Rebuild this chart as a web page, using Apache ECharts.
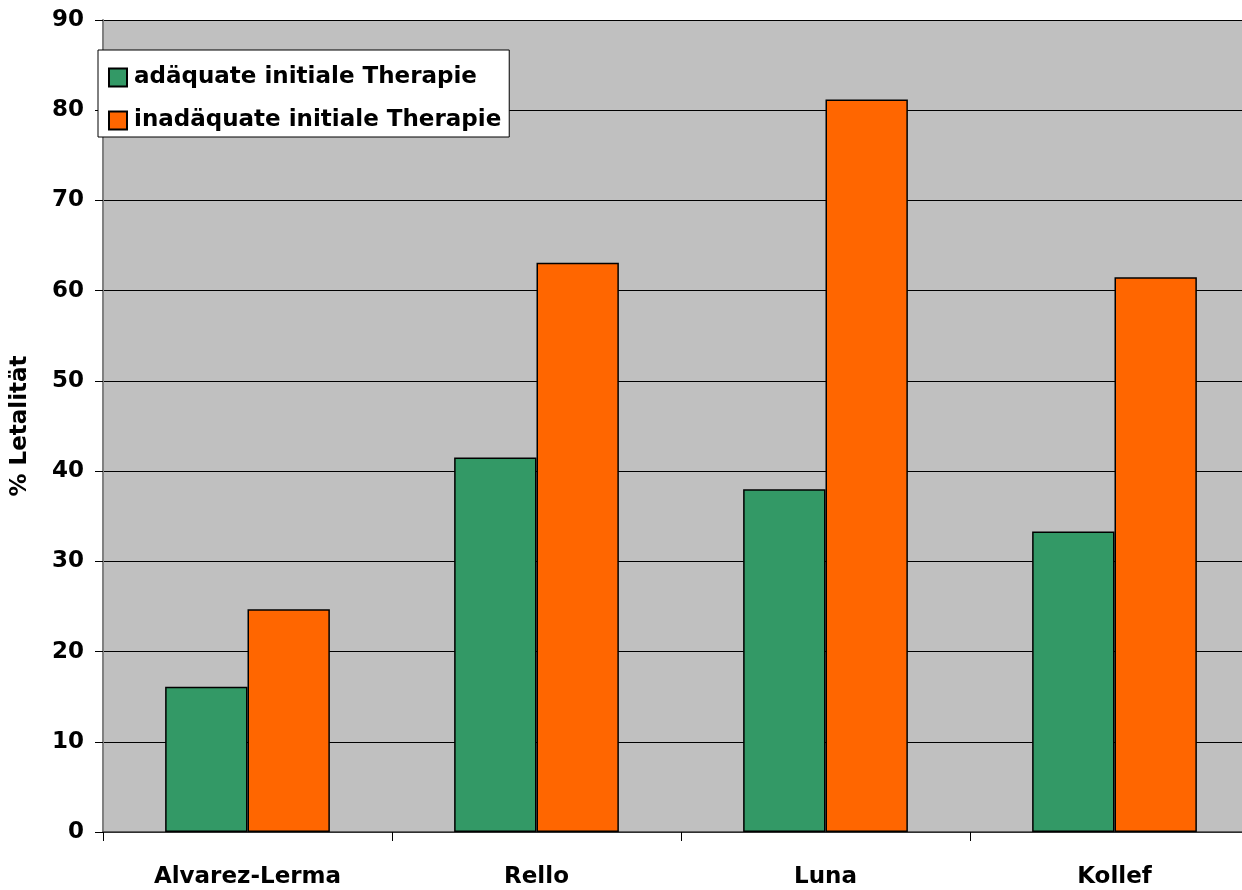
<!DOCTYPE html>
<html><head><meta charset="utf-8">
<script src="https://cdn.jsdelivr.net/npm/echarts@6/dist/echarts.min.js"></script>
<style>html,body{margin:0;padding:0;background:#fff;overflow:hidden;width:1242px;height:890px}#c{width:1259px;height:890px}</style>
</head><body><div id="c"></div>
<script>
const categories = ['Alvarez-Lerma', 'Rello', 'Luna', 'Kollef'];
const seriesNames = ['adäquate initiale Therapie', 'inadäquate initiale Therapie'];
const adequate = [16.1, 41.5, 38.0, 33.3];
const inadequate = [24.7, 63.1, 81.2, 61.5];
const yTitle = '% Letalität';

const font = {fontFamily: 'DejaVu Sans', fontWeight: 'bold', fontSize: 23, color: '#000'};
const chart = echarts.init(document.getElementById('c'));
chart.setOption({
  animation: false,
  backgroundColor: '#fff',
  grid: {left: 103, top: 20, right: 0, height: 812, backgroundColor: '#c0c0c0', show: true, borderWidth: 0},
  legend: {
    orient: 'vertical', left: 98, top: 50, padding: [16, 8, 5, 10], itemGap: 20,
    backgroundColor: '#fff', borderColor: '#000', borderWidth: 1,
    itemWidth: 18, itemHeight: 18, icon: 'rect',
    textStyle: Object.assign({}, font, {padding: [0, 0, 0, 2]}),
    data: seriesNames
  },
  xAxis: {
    type: 'category', data: categories,
    axisLine: {lineStyle: {color: '#404040', width: 1.5}},
    axisTick: {show: true, length: 9, lineStyle: {color: '#000'}},
    axisLabel: Object.assign({}, font, {margin: 34})
  },
  yAxis: {
    type: 'value', min: 0, max: 90, interval: 10,
    name: yTitle, nameLocation: 'middle', nameGap: 71, nameRotate: 90,
    nameTextStyle: font,
    axisLine: {show: true, lineStyle: {color: '#808080', width: 2}},
    axisTick: {show: true, length: 8, lineStyle: {color: '#000'}},
    axisLabel: Object.assign({}, font, {margin: 19}),
    splitLine: {lineStyle: {color: '#000', width: 1}}
  },
  series: [
    {name: seriesNames[0], type: 'bar', data: adequate, barGap: '0%', barCategoryGap: '43%',
     itemStyle: {color: '#339966', borderColor: '#000', borderWidth: 1.5}},
    {name: seriesNames[1], type: 'bar', data: inadequate,
     itemStyle: {color: '#ff6600', borderColor: '#000', borderWidth: 1.5}}
  ]
});
</script></body></html>
